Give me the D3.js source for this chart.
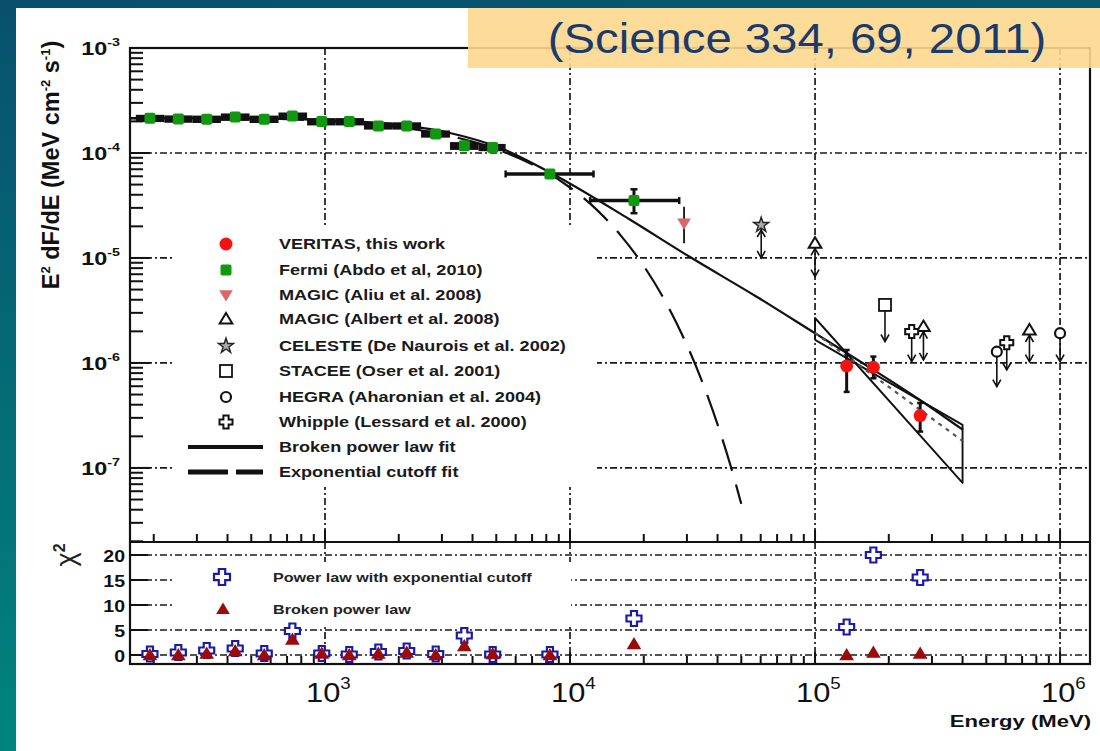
<!DOCTYPE html>
<html><head><meta charset="utf-8">
<script src="https://cdn.jsdelivr.net/npm/d3@7"></script>
<style>html,body{margin:0;padding:0;background:#fff;} svg{display:block;}</style>
</head><body>
<svg id="chart" width="1100" height="751"></svg>
<script>
// ---------------- data ----------------
// Fermi-LAT spectral points (MeV, MeV cm^-2 s^-1)
const fermiE   = [193, 252, 329, 430, 565, 736, 970, 1256, 1651, 2155, 2830, 3703, 4835, 8279, 18240];
const fermiF   = [2.14e-4, 2.11e-4, 2.10e-4, 2.20e-4, 2.10e-4, 2.25e-4, 1.99e-4, 1.99e-4, 1.81e-4, 1.81e-4, 1.52e-4, 1.17e-4, 1.13e-4, 6.31e-5, 3.52e-5];
const fermiElo = [169, 221, 288, 376, 492, 646, 845, 1104, 1442, 1888, 2466, 3236, 4236, 5460, 12080];
const fermiEhi = [221, 288, 376, 492, 646, 845, 1104, 1442, 1888, 2466, 3236, 4236, 5460, 12470, 27900];
const fermiFlo = [1.97e-4, 1.94e-4, 1.93e-4, 2.02e-4, 1.93e-4, 2.07e-4, 1.83e-4, 1.83e-4, 1.67e-4, 1.67e-4, 1.40e-4, 1.07e-4, 1.04e-4, 5.90e-5, 2.67e-5];
const fermiFhi = [2.31e-4, 2.28e-4, 2.27e-4, 2.38e-4, 2.27e-4, 2.43e-4, 2.15e-4, 2.15e-4, 1.96e-4, 1.96e-4, 1.64e-4, 1.27e-4, 1.22e-4, 6.75e-5, 4.51e-5];

// VERITAS points
const veritasE   = [134600, 173000, 268600];
const veritasF   = [9.36e-7, 9.10e-7, 3.15e-7];
const veritasFlo = [5.30e-7, 7.14e-7, 2.22e-7];
const veritasFhi = [1.33e-6, 1.15e-6, 4.16e-7];

// MAGIC (Aliu et al. 2008)
const magicAliuE = [29200], magicAliuF = [2.14e-5], magicAliuFlo = [1.38e-5], magicAliuFhi = [3.08e-5];
// upper limits: marker flux and lower arrow end
const magicAlbertE = [100000, 277000, 750000];
const magicAlbertF = [1.38e-5, 2.22e-6, 2.06e-6];
const magicAlbertTo = [6.64e-6, 1.07e-6, 1.03e-6];
const celesteE = [60300], celesteF = [2.06e-5], celesteTo = [1.0e-5];
const staceeE = [193000], staceeF = [3.27e-6], staceeTo = [1.6e-6];
const hegraE = [552000, 1000000], hegraF = [1.28e-6, 1.92e-6], hegraTo = [5.94e-7, 1.03e-6];
const whippleE = [248000, 606000], whippleF = [1.99e-6, 1.56e-6], whippleTo = [1.03e-6, 8.57e-7];

// fitted models
const bplE = [160, 409, 1000, 2024, 3236, 5176, 9100, 17400, 30900, 58000, 101000, 161000, 268000, 402000];
const bplF = [2.15e-4, 2.15e-4, 2.06e-4, 1.85e-4, 1.55e-4, 1.12e-4, 5.78e-5, 2.35e-5, 1.02e-5, 4.25e-6, 1.89e-6, 9.57e-7, 4.44e-7, 2.30e-7];
const cutoffE = [160, 300, 600, 1000, 2000, 3000, 5000, 7000, 10000, 13000, 16000, 20000, 25000, 30000, 35000, 40000, 45000, 50000];
const cutoffF = [2.14e-4, 2.16e-4, 2.12e-4, 2.02e-4, 1.76e-4, 1.51e-4, 1.09e-4, 7.79e-5, 4.69e-5, 2.81e-5, 1.67e-5, 8.39e-6, 3.53e-6, 1.48e-6, 6.21e-7, 2.60e-7, 1.09e-7, 4.55e-8];
// VERITAS power-law butterfly
const bowE = [100000, 400000];
const bowSteepF = [2.68e-6, 7.2e-8];
const bowShallowF = [1.66e-6, 2.57e-7];
const bowBestF = [1.93e-6, 1.81e-7];

// chi-square residuals per point
const chiE = [193, 252, 329, 430, 565, 736, 970, 1256, 1651, 2155, 2830, 3703, 4835, 8279, 18240, 134600, 173000, 268600];
const chiCutoff = [0.2, 0.5, 0.9, 1.3, 0.3, 4.8, 0.3, 0.1, 0.6, 0.8, 0.2, 3.9, 0.1, 0.1, 7.3, 5.6, 20.0, 15.5];
const chiBroken = [0.0, 0.0, 0.3, 0.8, 0.0, 3.1, 0.3, 0.0, 0.3, 0.5, 0.0, 1.8, 0.2, 0.0, 2.2, 0.0, 0.5, 0.3];

// axis ticks and labels
const xTickExps = [3, 4, 5, 6];
const yTickExps = [-3, -4, -5, -6, -7];
const chiTicks = [0, 5, 10, 15, 20];
const legendLabels = ["VERITAS, this work", "Fermi (Abdo et al, 2010)", "MAGIC (Aliu et al. 2008)", "MAGIC (Albert et al. 2008)",
  "CELESTE (De Naurois et al. 2002)", "STACEE (Oser et al. 2001)", "HEGRA (Aharonian et al. 2004)", "Whipple (Lessard et al. 2000)",
  "Broken power law fit", "Exponential cutoff fit"];
const chiLegendLabels = ["Power law with exponential cutoff", "Broken power law"];
const titleText = "(Science 334, 69, 2011)";

// ---------------- layout ----------------
const W = 1100, H = 751;
const L = 130, R = 1090, T = 48, MID = 542, B = 664;
const svg = d3.select("#chart");
const FONT = "'Liberation Sans', Arial, Helvetica, sans-serif";

const x = d3.scaleLog().domain([160, 1.325e6]).range([L, R]);
const y = d3.scaleLog().domain([1.97e-8, 1e-3]).range([MID, T]);
const yc = d3.scaleLinear().domain([-1.8, 22.6]).range([B, MID]);

// slide background
const defs = svg.append("defs");
const grad = defs.append("linearGradient").attr("id", "slideBg")
  .attr("x1", "0").attr("y1", "0").attr("x2", "0.15").attr("y2", "1");
grad.append("stop").attr("offset", "0").attr("stop-color", "#08506e");
grad.append("stop").attr("offset", "1").attr("stop-color", "#00857f");
svg.append("rect").attr("width", W).attr("height", H).attr("fill", "url(#slideBg)");
svg.append("rect").attr("x", 16).attr("y", 8).attr("width", W - 16).attr("height", H - 8).attr("fill", "#fff");

// horizontally stretched text helper
function stretched(parent, px, py, k, anchor) {
  const g = parent.append("g").attr("transform", `translate(${px},${py}) scale(${k},1)`);
  return g.append("text").attr("x", 0).attr("y", 0).attr("text-anchor", anchor || "start")
    .attr("font-family", FONT);
}

const plot = svg.append("g");
const gridStyle = s => s.attr("stroke", "#1a1a1a").attr("stroke-width", 1.7).attr("stroke-dasharray", "7,3,2,3").attr("fill", "none");

// ---- grid lines ----
xTickExps.forEach(e => {
  gridStyle(plot.append("line").attr("x1", x(10 ** e)).attr("x2", x(10 ** e)).attr("y1", T).attr("y2", MID));
  gridStyle(plot.append("line").attr("x1", x(10 ** e)).attr("x2", x(10 ** e)).attr("y1", MID).attr("y2", B));
});
yTickExps.slice(1).forEach(e => {
  gridStyle(plot.append("line").attr("x1", L).attr("x2", R).attr("y1", y(10 ** e)).attr("y2", y(10 ** e)));
});
chiTicks.forEach(c => {
  gridStyle(plot.append("line").attr("x1", L).attr("x2", R).attr("y1", yc(c)).attr("y2", yc(c)));
});

// legend backgrounds hide the grid behind them
plot.append("rect").attr("x", 173).attr("y", 227).attr("width", 424).attr("height", 260).attr("fill", "#fff");
plot.append("rect").attr("x", 173).attr("y", 562).attr("width", 398).attr("height", 64).attr("fill", "#fff");

// ---- ticks ----
const tickG = plot.append("g").attr("stroke", "#111").attr("stroke-width", 2);
for (let n = -8; n <= -3; n++) {
  for (let k = 1; k <= 9; k++) {
    const v = k * 10 ** n;
    if (v < y.domain()[0] || v > y.domain()[1]) continue;
    const len = k === 1 ? 20 : 13;
    tickG.append("line").attr("x1", L).attr("x2", L + len).attr("y1", y(v)).attr("y2", y(v));
  }
}
for (let n = 2; n <= 6; n++) {
  for (let k = 1; k <= 9; k++) {
    const v = k * 10 ** n;
    if (v < x.domain()[0] || v > x.domain()[1]) continue;
    const len = k === 1 ? 12 : 8;
    tickG.append("line").attr("x1", x(v)).attr("x2", x(v)).attr("y1", MID).attr("y2", MID - len);
    tickG.append("line").attr("x1", x(v)).attr("x2", x(v)).attr("y1", B).attr("y2", B - len);
  }
}
chiTicks.forEach(c => tickG.append("line").attr("x1", L).attr("x2", L + 18).attr("y1", yc(c)).attr("y2", yc(c)));

// frame
plot.append("rect").attr("x", L).attr("y", T).attr("width", R - L).attr("height", B - T)
  .attr("fill", "none").attr("stroke", "#111").attr("stroke-width", 2.2);
plot.append("line").attr("x1", L).attr("x2", R).attr("y1", MID).attr("y2", MID).attr("stroke", "#111").attr("stroke-width", 2.2);

// ---- tick labels ----
yTickExps.forEach(e => {
  const t = stretched(svg, 120, y(10 ** e) + 7, 1.3, "end")
    .attr("font-size", 18).attr("font-weight", "bold").attr("fill", "#111");
  t.append("tspan").text("10");
  t.append("tspan").attr("dy", -9).attr("font-size", 11).text(e);
});
chiTicks.forEach(c => {
  stretched(svg, 125, yc(c) + 6.5, 1.15, "end")
    .attr("font-size", 17).attr("font-weight", "bold").attr("fill", "#111").text(c);
});
xTickExps.forEach(e => {
  const t = stretched(svg, x(10 ** e) - 19, 702, 1.1, "start").attr("font-size", 28).attr("fill", "#111");
  t.append("tspan").text("10");
  t.append("tspan").attr("dy", -13).attr("font-size", 17).text(e);
});

// axis titles
const yt = svg.append("text").attr("transform", "translate(59,165) rotate(-90)")
  .attr("text-anchor", "middle").attr("font-family", FONT).attr("font-weight", "bold")
  .attr("font-size", 23.5).attr("fill", "#111");
yt.append("tspan").text("E");
yt.append("tspan").attr("dy", -9).attr("font-size", 13).text("2");
yt.append("tspan").attr("dy", 9).text(" dF/dE (MeV cm");
yt.append("tspan").attr("dy", -9).attr("font-size", 13).text("-2");
yt.append("tspan").attr("dy", 9).text(" s");
yt.append("tspan").attr("dy", -9).attr("font-size", 13).text("-1");
yt.append("tspan").attr("dy", 9).text(")");

const ct = svg.append("text").attr("transform", "translate(75,555) rotate(-90)")
  .attr("text-anchor", "middle").attr("font-family", FONT).attr("font-size", 27).attr("fill", "#222");
ct.append("tspan").text("\u03c7");
ct.append("tspan").attr("dy", -10).attr("font-size", 16).attr("font-weight", "bold").text("2");

stretched(svg, 1091, 727, 1.3, "end").attr("font-size", 17).attr("font-weight", "bold").attr("fill", "#111").text("Energy (MeV)");

// ---- symbols ----
const plusPath = (s, w) => `M${-w},${-s}H${w}V${-w}H${s}V${w}H${w}V${s}H${-w}V${w}H${-s}V${-w}H${-w}Z`;
const triUp = s => `M0,${-s}L${s * 1.05},${s * 0.75}L${-s * 1.05},${s * 0.75}Z`;
const triDown = s => `M0,${s}L${s * 1.05},${-s * 0.75}L${-s * 1.05},${-s * 0.75}Z`;
const star = d3.symbol().type(d3.symbolStar).size(70)();
const chevDown = (cx, cy) => `M${cx - 4},${cy - 7}L${cx},${cy}L${cx + 4},${cy - 7}`;
const chevUp = (cx, cy) => `M${cx - 4},${cy + 7}L${cx},${cy}L${cx + 4},${cy + 7}`;

const mk = {
  veritas: (g, px, py) => g.append("circle").attr("cx", px).attr("cy", py).attr("r", 6.5).attr("fill", "#f71212"),
  fermi: (g, px, py) => g.append("rect").attr("x", px - 5.5).attr("y", py - 5.5).attr("width", 11).attr("height", 11).attr("rx", 2).attr("fill", "#10990f"),
  aliu: (g, px, py) => g.append("path").attr("d", triDown(6.5)).attr("transform", `translate(${px},${py})`).attr("fill", "#d8666a"),
  albert: (g, px, py) => g.append("path").attr("d", triUp(6)).attr("transform", `translate(${px},${py})`).attr("fill", "#fff").attr("stroke", "#111").attr("stroke-width", 2),
  celeste: (g, px, py) => g.append("path").attr("d", star).attr("transform", `translate(${px},${py})`).attr("fill", "#aaa").attr("stroke", "#222").attr("stroke-width", 1.4),
  stacee: (g, px, py) => g.append("rect").attr("x", px - 6).attr("y", py - 6).attr("width", 12).attr("height", 12).attr("fill", "#fff").attr("stroke", "#111").attr("stroke-width", 1.8),
  hegra: (g, px, py) => g.append("circle").attr("cx", px).attr("cy", py).attr("r", 5).attr("fill", "#fff").attr("stroke", "#111").attr("stroke-width", 2.2),
  whipple: (g, px, py) => g.append("path").attr("d", plusPath(6.5, 2.6)).attr("transform", `translate(${px},${py})`).attr("fill", "#fff").attr("stroke", "#111").attr("stroke-width", 2)
};

// ---- legend (upper) ----
const legRows = [244, 270, 295, 319, 346, 371, 397, 422, 447, 472];
const legKeys = ["veritas", "fermi", "aliu", "albert", "celeste", "stacee", "hegra", "whipple"];
const leg = svg.append("g");
legendLabels.forEach((lab, i) => {
  const ry = legRows[i];
  if (i < 8) mk[legKeys[i]](leg, 226, ry);
  else if (i === 8) leg.append("line").attr("x1", 188).attr("x2", 263).attr("y1", ry).attr("y2", ry).attr("stroke", "#111").attr("stroke-width", 4);
  else leg.append("line").attr("x1", 188).attr("x2", 263).attr("y1", ry).attr("y2", ry).attr("stroke", "#111").attr("stroke-width", 5).attr("stroke-dasharray", "40,8,28");
  stretched(leg, 279, ry + 5, 1.29, "start").attr("font-size", 14).attr("font-weight", "bold").attr("fill", "#1a1a1a").text(lab);
});

// ---- legend (chi panel) ----
leg.append("path").attr("d", plusPath(8, 3.2)).attr("transform", "translate(222,577)").attr("fill", "#fff").attr("stroke", "#1a1aa6").attr("stroke-width", 2.2);
leg.append("path").attr("d", triUp(6.5)).attr("transform", "translate(223,609)").attr("fill", "#9b0b0b");
stretched(leg, 273, 581.5, 1.29, "start").attr("font-size", 12.5).attr("font-weight", "bold").attr("fill", "#222").text(chiLegendLabels[0]);
stretched(leg, 273, 613.5, 1.29, "start").attr("font-size", 12.5).attr("font-weight", "bold").attr("fill", "#222").text(chiLegendLabels[1]);

// ---- fit curves ----
const curve = d3.line().x(d => x(d[0])).y(d => y(d[1])).curve(d3.curveMonotoneX);
const fits = svg.append("g").attr("fill", "none");
fits.append("path").attr("d", curve(d3.zip(cutoffE, cutoffF))).attr("stroke", "#111").attr("stroke-width", 2.2).attr("stroke-dasharray", "33,14");
fits.append("path").attr("d", curve(d3.zip(bplE, bplF))).attr("stroke", "#111").attr("stroke-width", 2.2);

// butterfly of the VERITAS power-law fit
fits.append("path").attr("d", d3.line()([
  [x(bowE[0]), y(bowShallowF[0])], [x(bowE[0]), y(bowSteepF[0])], [x(bowE[1]), y(bowSteepF[1])],
  [x(bowE[1]), y(bowShallowF[1])], [x(bowE[0]), y(bowShallowF[0])]
])).attr("stroke", "#111").attr("stroke-width", 1.9).attr("stroke-linejoin", "round");
fits.append("line").attr("x1", x(bowE[0])).attr("y1", y(bowBestF[0])).attr("x2", x(bowE[1])).attr("y2", y(bowBestF[1]))
  .attr("stroke", "#555").attr("stroke-width", 2.2).attr("stroke-dasharray", "4,5");

// ---- data points ----
const pts = svg.append("g");
// Fermi: bin-width bars
fermiE.forEach((e, i) => {
  if (i < 13) {
    pts.append("rect").attr("x", x(fermiElo[i])).attr("width", x(fermiEhi[i]) - x(fermiElo[i]))
      .attr("y", y(fermiFhi[i])).attr("height", y(fermiFlo[i]) - y(fermiFhi[i])).attr("fill", "#111");
  } else {
    const cy = y(fermiF[i]);
    pts.append("line").attr("x1", x(fermiElo[i])).attr("x2", x(fermiEhi[i])).attr("y1", cy).attr("y2", cy).attr("stroke", "#111").attr("stroke-width", 3.5);
    [fermiElo[i], fermiEhi[i]].forEach(ee => pts.append("line").attr("x1", x(ee)).attr("x2", x(ee)).attr("y1", cy - 3.5).attr("y2", cy + 3.5).attr("stroke", "#111").attr("stroke-width", 2.5));
    pts.append("line").attr("x1", x(e)).attr("x2", x(e)).attr("y1", y(fermiFhi[i])).attr("y2", y(fermiFlo[i])).attr("stroke", "#111").attr("stroke-width", 3);
    [fermiFhi[i], fermiFlo[i]].forEach(ff => pts.append("line").attr("x1", x(e) - 3.5).attr("x2", x(e) + 3.5).attr("y1", y(ff)).attr("y2", y(ff)).attr("stroke", "#111").attr("stroke-width", 2.5));
  }
});
fermiE.forEach((e, i) => mk.fermi(pts, x(e), y(fermiF[i])));

// MAGIC Aliu
magicAliuE.forEach((e, i) => {
  pts.append("line").attr("x1", x(e)).attr("x2", x(e)).attr("y1", y(magicAliuFhi[i])).attr("y2", y(magicAliuFlo[i])).attr("stroke", "#111").attr("stroke-width", 1.8);
  mk.aliu(pts, x(e), y(magicAliuF[i]));
});

// arrows: line from marker down to the arrow end, heads at both ends
function arrow(e, f, to, key, upHead) {
  const px = x(e), py = y(f), py2 = y(to);
  pts.append("line").attr("x1", px).attr("x2", px).attr("y1", py).attr("y2", py2).attr("stroke", "#111").attr("stroke-width", 1.6);
  pts.append("path").attr("d", chevDown(px, py2)).attr("fill", "none").attr("stroke", "#111").attr("stroke-width", 1.6);
  if (upHead) pts.append("path").attr("d", chevUp(px, py + 5)).attr("fill", "none").attr("stroke", "#111").attr("stroke-width", 1.6);
  mk[key](pts, px, py);
}
celesteE.forEach((e, i) => arrow(e, celesteF[i], celesteTo[i], "celeste", true));
magicAlbertE.forEach((e, i) => arrow(e, magicAlbertF[i], magicAlbertTo[i], "albert", true));
staceeE.forEach((e, i) => { const px = x(e), py = y(staceeF[i]);
  pts.append("line").attr("x1", px).attr("x2", px).attr("y1", py).attr("y2", y(staceeTo[i])).attr("stroke", "#111").attr("stroke-width", 1.6);
  pts.append("path").attr("d", chevDown(px, y(staceeTo[i]))).attr("fill", "none").attr("stroke", "#111").attr("stroke-width", 1.6);
  mk.stacee(pts, px, py - 4); });
hegraE.forEach((e, i) => arrow(e, hegraF[i], hegraTo[i], "hegra", false));
whippleE.forEach((e, i) => arrow(e, whippleF[i], whippleTo[i], "whipple", false));

// VERITAS
veritasE.forEach((e, i) => {
  const px = x(e);
  pts.append("line").attr("x1", px).attr("x2", px).attr("y1", y(veritasFhi[i])).attr("y2", y(veritasFlo[i])).attr("stroke", "#111").attr("stroke-width", 3);
  [veritasFhi[i], veritasFlo[i]].forEach(ff => pts.append("line").attr("x1", px - 3).attr("x2", px + 3).attr("y1", y(ff)).attr("y2", y(ff)).attr("stroke", "#111").attr("stroke-width", 2.5));
  mk.veritas(pts, px, y(veritasF[i]));
});

// ---- chi-square panel points ----
chiE.forEach((e, i) => {
  pts.append("path").attr("d", plusPath(7.5, 3)).attr("transform", `translate(${x(e)},${yc(chiCutoff[i])})`)
    .attr("fill", "#fff").attr("stroke", "#1a1aa6").attr("stroke-width", 2.2);
});
chiE.forEach((e, i) => {
  pts.append("path").attr("d", triUp(7)).attr("transform", `translate(${x(e)},${yc(chiBroken[i])})`).attr("fill", "#9b0b0b");
});

// ---- citation banner ----
svg.append("rect").attr("x", 468).attr("y", 8).attr("width", W - 468).attr("height", 60)
  .attr("fill", "#fdd88f").attr("opacity", 0.9);
stretched(svg, 797, 53, 1.1, "middle").attr("font-size", 43).attr("fill", "#1b3b6d").text(titleText);
</script>
</body></html>
